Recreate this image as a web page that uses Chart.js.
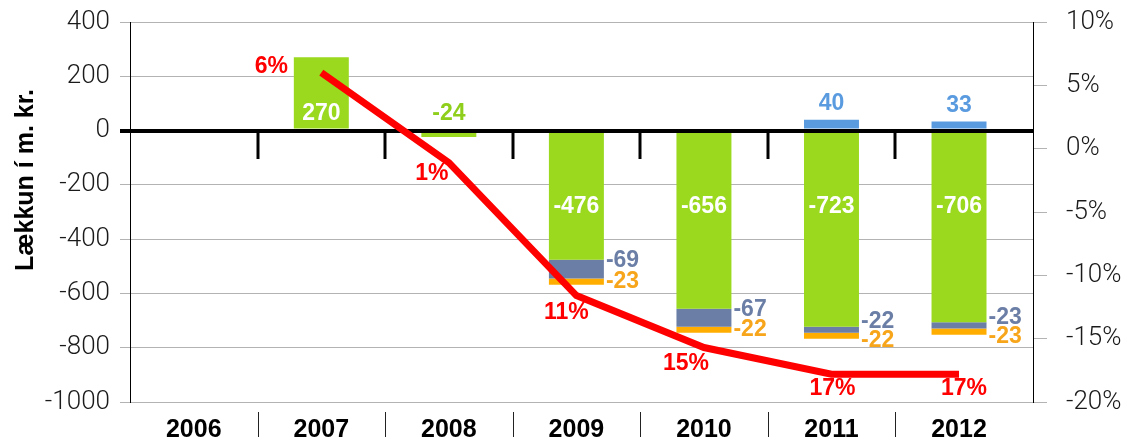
<!DOCTYPE html>
<html>
<head>
<meta charset="utf-8">
<title>Lækkun í m. kr.</title>
<script src="https://cdn.jsdelivr.net/npm/chart.js@4.4.0/dist/chart.umd.min.js"></script>
<style>
  html, body { margin: 0; padding: 0; background: #fff; }
  #wrap { width: 1130px; height: 441px; }
</style>
</head>
<body>
<div id="wrap"><canvas id="chart" width="1130" height="441"></canvas></div>
<script>
// values
const years = [2006, 2007, 2008, 2009, 2010, 2011, 2012];
const mainValues = [null, 270, -24, -476, -656, -723, -706];     // green
const secondValues = [null, null, null, -69, -67, -22, -23];     // slate
const thirdValues = [null, null, null, -23, -22, -22, -23];      // orange
const extraValues = [null, null, null, null, null, 40, 33];      // blue, above zero
const changePct = [null, 6, -1.1, -11.6, -15.7, -17.8, -17.8];   // red line, right axis

const GREEN = '#9ad91e', SLATE = '#6b7ea6', ORANGE = '#ffae00', BLUE = '#5a9be0', RED = '#ff0000';
const BOLD = '"Liberation Sans", Arial, sans-serif';
const LIGHT = 'Roboto, "Liberation Sans", sans-serif';
const GRID = '#b3b3b3';

// where the red % labels sit relative to their point
const pctOffsets = [null, [-50, -6], [-17, 11], [-10, 17], [-18, 16], [1, 15], [5, 15]];

const extras = {
    id: 'extras',
    beforeDatasetDraw(chart, args) {
        if (args.meta.type !== 'line') return;
        const {ctx, chartArea} = chart;
        const x = chart.scales.x, y = chart.scales.y;
        const y0 = Math.round(y.getPixelForValue(0));
        ctx.save();
        ctx.strokeStyle = '#000';
        ctx.lineWidth = 4;
        ctx.beginPath();
        ctx.moveTo(chartArea.left - 10, y0);
        ctx.lineTo(chartArea.right, y0);
        ctx.stroke();
        ctx.lineWidth = 3;
        years.slice(0, -1).forEach(yr => {
            const px = Math.round(x.getPixelForValue(yr + 0.5));
            ctx.beginPath();
            ctx.moveTo(px, y0);
            ctx.lineTo(px, y0 + 28);
            ctx.stroke();
        });
        ctx.restore();
    },
    afterDatasetsDraw(chart) {
        const {ctx} = chart;
        const y0 = chart.scales.y.getPixelForValue(0);
        const bars = i => chart.getDatasetMeta(i).data.map(el => el.getProps(['x', 'y', 'base', 'width'], true));
        const green = bars(0), slate = bars(1), orange = bars(2), blue = bars(3);
        ctx.save();
        ctx.font = 'bold 23px ' + BOLD;
        ctx.textBaseline = 'middle';

        ctx.textAlign = 'center';
        mainValues.forEach((v, i) => {
            if (v === null) return;
            const b = green[i];
            if (v > 0) {
                ctx.fillStyle = '#fff';
                ctx.fillText(v, b.x, y0 - 17);
            } else if (v > -100) {
                ctx.fillStyle = '#8fcf1c';
                ctx.fillText(v, b.x, y0 - 17);
            } else {
                ctx.fillStyle = '#fff';
                ctx.fillText(v, b.x, y0 + 76);
            }
        });

        extraValues.forEach((v, i) => {
            if (v === null) return;
            ctx.fillStyle = BLUE;
            ctx.fillText(v, blue[i].x, blue[i].y - 16);
        });

        ctx.textAlign = 'left';
        secondValues.forEach((v, i) => {
            if (v === null) return;
            const s = slate[i], o = orange[i];
            const sy = (s.y + s.base) / 2 - 8;
            const oy = Math.max((o.y + o.base) / 2, sy + 19);
            const left = s.x + s.width / 2 + 2;
            ctx.fillStyle = SLATE;
            ctx.fillText(v, left, sy);
            if (thirdValues[i] !== null) {
                ctx.fillStyle = '#f7a51a';
                ctx.fillText(thirdValues[i], left, oy);
            }
        });

        ctx.textAlign = 'center';
        ctx.fillStyle = RED;
        const pts = chart.getDatasetMeta(4).data;
        changePct.forEach((v, i) => {
            if (v === null) return;
            const off = pctOffsets[i];
            ctx.fillText(Math.trunc(Math.abs(v)) + '%', pts[i].x + off[0], pts[i].y + off[1]);
        });
        ctx.restore();
    },
    afterDraw(chart) {
        const {ctx} = chart;
        const x = chart.scales.x;
        ctx.save();
        ctx.strokeStyle = '#222';
        ctx.lineWidth = 1;
        years.slice(0, -1).forEach(yr => {
            const px = Math.round(x.getPixelForValue(yr + 0.5)) + 0.5;
            ctx.beginPath();
            ctx.moveTo(px, 412);
            ctx.lineTo(px, 437);
            ctx.stroke();
        });
        ctx.translate(33, 180);
        ctx.rotate(-Math.PI / 2);
        ctx.font = 'bold 25px ' + BOLD;
        ctx.fillStyle = '#000';
        ctx.textAlign = 'center';
        ctx.textBaseline = 'alphabetic';
        ctx.fillText('Lækkun í m. kr.', 0, 0);
        ctx.restore();
    }
};

const barSet = (data, color) => ({
    type: 'bar',
    data: data,
    backgroundColor: color,
    borderWidth: 0,
    barPercentage: 0.431,
    categoryPercentage: 1,
    yAxisID: 'y',
    order: 1
});

const fitY = width => s => {
    s.width = width;
    s.paddingTop = 0;
    s.paddingBottom = 0;
};

new Chart(document.getElementById('chart'), {
    data: {
        labels: years,
        datasets: [
            barSet(mainValues, GREEN),
            barSet(secondValues, SLATE),
            barSet(thirdValues, ORANGE),
            barSet(extraValues, BLUE),
            {
                type: 'line',
                data: changePct,
                borderColor: RED,
                borderWidth: 7,
                pointRadius: 0,
                tension: 0,
                yAxisID: 'y1',
                order: 0
            }
        ]
    },
    options: {
        responsive: false,
        animation: false,
        layout: { padding: { top: 22, left: 0, right: 0, bottom: 0 } },
        plugins: { legend: { display: false }, tooltip: { enabled: false } },
        scales: {
            x: {
                type: 'linear',
                min: 2005.5,
                max: 2012.58,
                offset: false,
                stacked: true,
                grid: { display: false, drawTicks: false },
                border: { display: false },
                afterBuildTicks: s => { s.ticks = years.map(v => ({ value: v })); },
                afterFit: s => { s.height = 39; s.paddingLeft = 0; s.paddingRight = 0; },
                ticks: {
                    padding: 13,
                    autoSkip: false,
                    maxRotation: 0,
                    color: '#000',
                    font: { family: BOLD, weight: 'bold', size: 25 },
                    callback: v => String(v)
                }
            },
            y: {
                position: 'left',
                min: -1000,
                max: 400,
                stacked: true,
                grid: {
                    color: c => c.tick && c.tick.value === 0 ? '#000' : GRID,
                    lineWidth: c => c.tick && c.tick.value === 0 ? 4 : 1,
                    tickLength: 10
                },
                border: { color: '#000', width: 1 },
                afterFit: fitY(130),
                ticks: {
                    stepSize: 200,
                    padding: 10,
                    color: '#1a1a1a',
                    font: { family: LIGHT, weight: '300', size: 26 },
                    callback: v => String(v)
                }
            },
            y1: {
                position: 'right',
                min: -20,
                max: 10,
                grid: { drawOnChartArea: false, tickLength: 14, color: GRID },
                border: { color: '#000', width: 1 },
                afterFit: fitY(97),
                ticks: {
                    stepSize: 5,
                    padding: 19,
                    color: '#1a1a1a',
                    font: { family: LIGHT, weight: '300', size: 26 },
                    callback: v => v + '%'
                }
            }
        }
    },
    plugins: [extras]
});
</script>
</body>
</html>
